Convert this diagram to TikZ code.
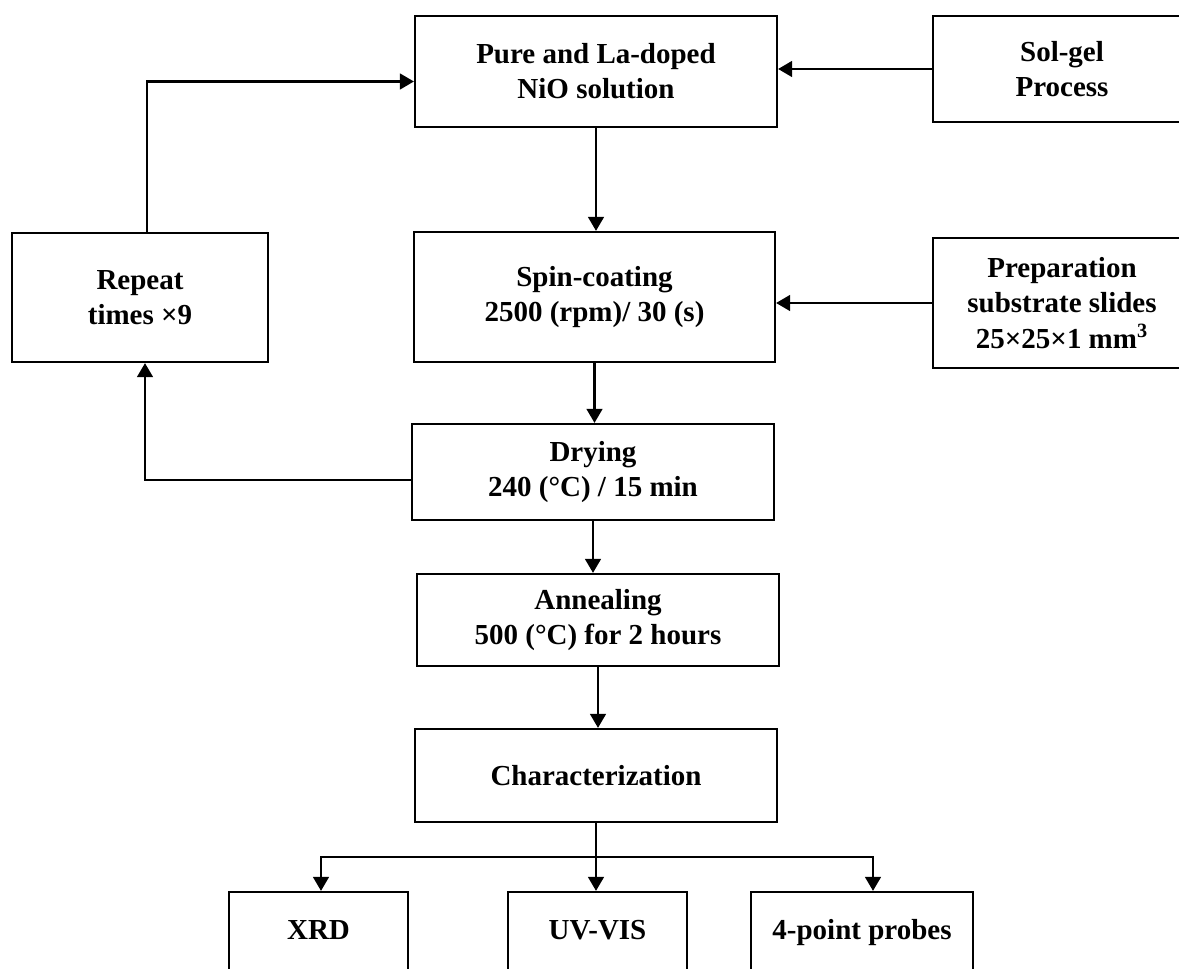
\documentclass[tikz,border=0pt]{standalone}
\usepackage{fontspec}
\setmainfont{Liberation Serif}
\usepackage{tikz}
\usetikzlibrary{positioning, arrows.meta}

\begin{document}
\begin{tikzpicture}[x=0.02cm, y=-0.02cm, line width=1.3pt,
    stage/.style={draw, rectangle, inner sep=0pt, align=center, font=\fontsize{16.5}{20}\selectfont\bfseries},
    probebox/.style={stage, minimum height=1.64cm, text height=1.6ex, text depth=0pt},
    flow/.style={-{Triangle[length=8pt, width=9pt]}}]
    \useasboundingbox (0,0) rectangle (1179,969);

    % Solution and coating
    \node (pure) at (596, 71.5) [stage, minimum width=7.24cm, minimum height=2.22cm] {Pure and La-doped \\ NiO solution};
    \node (solgel) at (1062, 69) [stage, minimum width=5.16cm, minimum height=2.12cm] {Sol-gel \\ Process};
    \node (spin) at (594.5, 297) [stage, minimum width=7.22cm, minimum height=2.6cm] {Spin-coating \\ 2500 (rpm)/ 30 (s)};
    \node (prep) at (1062, 303) [stage, minimum width=5.16cm, minimum height=2.6cm] {Preparation \\ substrate slides \\ 25×25×1 mm\textsuperscript{3}};
    \node (repeat) at (140, 297.5) [stage, minimum width=5.13cm, minimum height=2.58cm] {Repeat \\ times ×9};
    \draw[flow] (solgel.west) -- (solgel.west -| pure.east);
    \draw[flow] (pure.south) -- (pure.south |- spin.north);
    \draw[flow] (prep.west) -- (prep.west -| spin.east);

    % Heat treatment
    \node (dry) at (593, 472) [stage, minimum width=7.24cm, minimum height=1.92cm] {Drying \\ 240 (°C) / 15 min};
    \node (anneal) at (598, 620) [stage, minimum width=7.24cm, minimum height=1.84cm] {Annealing \\ 500 (°C) for 2 hours};
    \draw[flow] (spin.south) -- (spin.south |- dry.north);
    \draw[flow] (dry.south) -- (dry.south |- anneal.north);
    \draw[flow] ([yshift=-0.16cm]dry.west) -| ([xshift=0.1cm]repeat.south);
    \draw[flow] ([xshift=0.14cm]repeat.north) |- ([yshift=-0.2cm]pure.west);

    % Characterization
    \node (charac) at (596, 775.5) [stage, minimum width=7.24cm, minimum height=1.86cm] {Characterization};
    \node (xrd) at (318.5, 933) [probebox, minimum width=3.58cm] {XRD};
    \node (uvvis) at (597.5, 933) [probebox, minimum width=3.58cm] {UV-VIS};
    \node (probe) at (862, 933) [probebox, minimum width=4.44cm] {4-point probes};
    \coordinate[below=0.68cm of charac.south] (fork);
    \draw[flow] (anneal.south) -- (anneal.south |- charac.north);
    \draw[flow] (charac.south) -- (charac.south |- uvvis.north);
    \draw[flow] (fork) -| ([xshift=0.05cm]xrd.north);
    \draw[flow] (fork) -| ([xshift=0.22cm]probe.north);
\end{tikzpicture}
\end{document}
